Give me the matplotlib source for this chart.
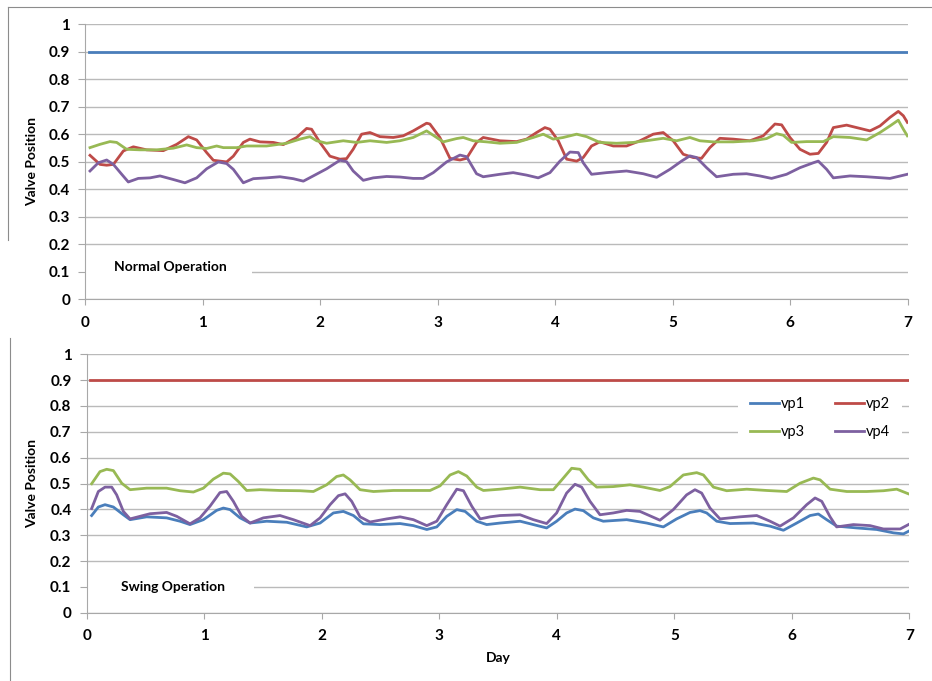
import matplotlib
matplotlib.use('Agg')
import matplotlib.pyplot as plt
from matplotlib.lines import Line2D
from matplotlib.patches import Rectangle

plt.rcParams['font.family'] = ['Lato', 'DejaVu Sans']

# --- data (day, valve position) ---
flat_days = [0.03, 7.0]
flat_vals = [0.9, 0.9]

normal_vp2 = [(0.04, 0.523), (0.125, 0.49), (0.182, 0.487), (0.239, 0.49), (0.324, 0.539), (0.409, 0.554),
              (0.522, 0.543), (0.664, 0.54), (0.778, 0.563), (0.877, 0.591), (0.948, 0.579), (1.033, 0.533),
              (1.09, 0.505), (1.203, 0.499), (1.26, 0.52), (1.345, 0.57), (1.401, 0.582), (1.487, 0.572),
              (1.6, 0.57), (1.685, 0.562), (1.799, 0.588), (1.884, 0.621), (1.926, 0.618), (1.997, 0.57),
              (2.082, 0.52), (2.167, 0.509), (2.224, 0.511), (2.28, 0.545), (2.352, 0.6), (2.423, 0.606),
              (2.508, 0.591), (2.621, 0.588), (2.706, 0.594), (2.791, 0.612), (2.905, 0.64), (2.933, 0.637),
              (3.018, 0.588), (3.104, 0.512), (3.189, 0.506), (3.245, 0.512), (3.33, 0.57), (3.387, 0.588),
              (3.529, 0.576), (3.671, 0.573), (3.756, 0.582), (3.841, 0.606), (3.912, 0.624), (3.955, 0.618),
              (4.026, 0.576), (4.097, 0.509), (4.182, 0.502), (4.238, 0.515), (4.309, 0.557), (4.38, 0.572),
              (4.494, 0.557), (4.607, 0.557), (4.721, 0.576), (4.834, 0.6), (4.919, 0.606), (5.004, 0.576),
              (5.089, 0.527), (5.174, 0.515), (5.245, 0.512), (5.316, 0.551), (5.401, 0.585), (5.515, 0.582),
              (5.657, 0.576), (5.77, 0.594), (5.87, 0.637), (5.927, 0.634), (5.998, 0.588), (6.083, 0.545),
              (6.168, 0.527), (6.239, 0.53), (6.31, 0.57), (6.367, 0.624), (6.48, 0.633), (6.594, 0.621),
              (6.679, 0.612), (6.764, 0.63), (6.849, 0.661), (6.92, 0.683), (6.963, 0.667), (6.997, 0.643)]

normal_vp3 = [(0.04, 0.551), (0.125, 0.563), (0.21, 0.573), (0.267, 0.57), (0.352, 0.545), (0.465, 0.543),
              (0.607, 0.543), (0.749, 0.549), (0.863, 0.561), (0.948, 0.551), (1.033, 0.548), (1.118, 0.557),
              (1.175, 0.551), (1.288, 0.551), (1.373, 0.557), (1.543, 0.557), (1.714, 0.567), (1.827, 0.582),
              (1.912, 0.591), (1.969, 0.576), (2.054, 0.567), (2.196, 0.576), (2.309, 0.57), (2.423, 0.576),
              (2.565, 0.57), (2.678, 0.576), (2.791, 0.588), (2.905, 0.612), (2.99, 0.588), (3.047, 0.572),
              (3.16, 0.584), (3.217, 0.588), (3.302, 0.576), (3.416, 0.572), (3.529, 0.567), (3.671, 0.57),
              (3.813, 0.588), (3.898, 0.6), (3.983, 0.582), (4.068, 0.588), (4.182, 0.6), (4.267, 0.591),
              (4.38, 0.57), (4.522, 0.567), (4.664, 0.57), (4.806, 0.578), (4.919, 0.585), (5.033, 0.576),
              (5.146, 0.588), (5.231, 0.576), (5.345, 0.572), (5.515, 0.572), (5.685, 0.576), (5.799, 0.584),
              (5.884, 0.602), (5.941, 0.596), (6.012, 0.57), (6.14, 0.573), (6.282, 0.573), (6.367, 0.591),
              (6.509, 0.588), (6.651, 0.579), (6.764, 0.606), (6.849, 0.63), (6.92, 0.651), (6.963, 0.618),
              (6.997, 0.594)]

normal_vp4 = [(0.04, 0.466), (0.111, 0.496), (0.182, 0.506), (0.239, 0.49), (0.31, 0.454), (0.366, 0.426),
              (0.451, 0.439), (0.551, 0.441), (0.636, 0.448), (0.749, 0.435), (0.848, 0.423), (0.948, 0.441),
              (1.033, 0.474), (1.132, 0.499), (1.203, 0.493), (1.26, 0.472), (1.345, 0.423), (1.43, 0.438),
              (1.543, 0.441), (1.657, 0.445), (1.77, 0.438), (1.856, 0.429), (1.94, 0.448), (2.054, 0.474),
              (2.167, 0.505), (2.224, 0.5), (2.28, 0.466), (2.366, 0.432), (2.451, 0.441), (2.565, 0.446),
              (2.678, 0.444), (2.791, 0.439), (2.876, 0.439), (2.962, 0.46), (3.075, 0.499), (3.189, 0.524),
              (3.245, 0.518), (3.33, 0.456), (3.387, 0.445), (3.529, 0.454), (3.642, 0.46), (3.756, 0.451),
              (3.855, 0.441), (3.955, 0.46), (4.04, 0.502), (4.125, 0.535), (4.196, 0.533), (4.238, 0.496),
              (4.309, 0.454), (4.437, 0.46), (4.607, 0.466), (4.749, 0.456), (4.863, 0.443), (4.976, 0.472),
              (5.075, 0.502), (5.146, 0.521), (5.203, 0.515), (5.288, 0.478), (5.373, 0.445), (5.515, 0.454),
              (5.628, 0.456), (5.742, 0.448), (5.841, 0.439), (5.969, 0.454), (6.083, 0.478), (6.197, 0.496),
              (6.239, 0.502), (6.31, 0.472), (6.367, 0.441), (6.509, 0.448), (6.651, 0.445), (6.849, 0.439),
              (6.997, 0.454)]

swing_vp1 = [(0.042, 0.376), (0.099, 0.409), (0.156, 0.418), (0.227, 0.409), (0.312, 0.379), (0.369, 0.36),
             (0.51, 0.371), (0.68, 0.367), (0.794, 0.354), (0.879, 0.341), (0.993, 0.36), (1.106, 0.396),
             (1.163, 0.405), (1.22, 0.399), (1.305, 0.367), (1.39, 0.347), (1.532, 0.354), (1.702, 0.35),
             (1.872, 0.332), (1.986, 0.347), (2.099, 0.386), (2.184, 0.392), (2.27, 0.376), (2.355, 0.344),
             (2.496, 0.341), (2.667, 0.345), (2.78, 0.337), (2.894, 0.322), (2.979, 0.332), (3.064, 0.373),
             (3.149, 0.399), (3.22, 0.392), (3.319, 0.354), (3.404, 0.341), (3.518, 0.347), (3.688, 0.354),
             (3.801, 0.341), (3.914, 0.328), (3.999, 0.354), (4.084, 0.386), (4.155, 0.401), (4.226, 0.395),
             (4.311, 0.367), (4.396, 0.354), (4.595, 0.36), (4.765, 0.347), (4.907, 0.332), (5.02, 0.363),
             (5.134, 0.388), (5.219, 0.395), (5.276, 0.386), (5.361, 0.354), (5.475, 0.345), (5.673, 0.347),
             (5.815, 0.335), (5.929, 0.319), (6.042, 0.347), (6.156, 0.376), (6.226, 0.382), (6.297, 0.36),
             (6.382, 0.335), (6.553, 0.328), (6.723, 0.322), (6.865, 0.309), (6.95, 0.305), (6.993, 0.315)]

swing_vp3 = [(0.042, 0.499), (0.113, 0.546), (0.17, 0.555), (0.227, 0.55), (0.298, 0.501), (0.369, 0.476),
             (0.51, 0.482), (0.68, 0.482), (0.794, 0.472), (0.908, 0.467), (0.993, 0.482), (1.078, 0.517),
             (1.163, 0.54), (1.22, 0.537), (1.29, 0.508), (1.361, 0.473), (1.475, 0.476), (1.645, 0.473),
             (1.815, 0.472), (1.929, 0.469), (2.042, 0.495), (2.127, 0.527), (2.184, 0.533), (2.241, 0.514),
             (2.326, 0.476), (2.44, 0.469), (2.61, 0.473), (2.78, 0.473), (2.922, 0.473), (3.007, 0.491),
             (3.092, 0.533), (3.163, 0.546), (3.234, 0.529), (3.319, 0.486), (3.376, 0.473), (3.518, 0.478),
             (3.688, 0.486), (3.857, 0.476), (3.971, 0.476), (4.056, 0.521), (4.127, 0.559), (4.198, 0.555),
             (4.269, 0.514), (4.34, 0.486), (4.481, 0.488), (4.623, 0.495), (4.737, 0.486), (4.878, 0.473),
             (4.963, 0.488), (5.077, 0.533), (5.191, 0.542), (5.248, 0.533), (5.333, 0.486), (5.446, 0.472),
             (5.617, 0.478), (5.787, 0.473), (5.957, 0.469), (6.07, 0.501), (6.184, 0.521), (6.241, 0.514),
             (6.326, 0.478), (6.468, 0.469), (6.638, 0.469), (6.78, 0.472), (6.893, 0.478), (6.993, 0.46)]

swing_vp4 = [(0.042, 0.403), (0.099, 0.469), (0.156, 0.486), (0.213, 0.486), (0.255, 0.456), (0.312, 0.392),
             (0.369, 0.363), (0.454, 0.373), (0.539, 0.383), (0.68, 0.388), (0.766, 0.373), (0.879, 0.344),
             (0.964, 0.367), (1.049, 0.412), (1.134, 0.465), (1.191, 0.469), (1.248, 0.431), (1.319, 0.373),
             (1.39, 0.347), (1.503, 0.367), (1.645, 0.376), (1.759, 0.36), (1.901, 0.337), (1.986, 0.367),
             (2.071, 0.418), (2.142, 0.453), (2.199, 0.46), (2.255, 0.431), (2.326, 0.371), (2.411, 0.351),
             (2.553, 0.363), (2.667, 0.371), (2.78, 0.36), (2.894, 0.337), (2.979, 0.354), (3.064, 0.418),
             (3.149, 0.478), (3.206, 0.472), (3.277, 0.412), (3.348, 0.363), (3.433, 0.371), (3.518, 0.376),
             (3.688, 0.379), (3.801, 0.36), (3.914, 0.345), (3.999, 0.386), (4.084, 0.463), (4.155, 0.497),
             (4.212, 0.486), (4.283, 0.431), (4.368, 0.379), (4.481, 0.386), (4.595, 0.396), (4.708, 0.392),
             (4.878, 0.358), (4.992, 0.399), (5.105, 0.456), (5.176, 0.476), (5.233, 0.463), (5.304, 0.405),
             (5.389, 0.363), (5.56, 0.371), (5.702, 0.376), (5.815, 0.354), (5.9, 0.335), (6.014, 0.367),
             (6.127, 0.418), (6.198, 0.444), (6.255, 0.431), (6.326, 0.371), (6.382, 0.332), (6.524, 0.341),
             (6.666, 0.337), (6.78, 0.324), (6.922, 0.324), (6.993, 0.341)]

series_names = ['vp1', 'vp2', 'vp3', 'vp4']
colors = {'vp1': '#4a7ebb', 'vp2': '#be4b48', 'vp3': '#98b954', 'vp4': '#7d60a0'}
y_ticks = [i / 10 for i in range(11)]
y_tick_labels = ['0', '0.1', '0.2', '0.3', '0.4', '0.5', '0.6', '0.7', '0.8', '0.9', '1']
x_ticks = list(range(8))

W, H = 932, 681
fig = plt.figure(figsize=(W / 100, H / 100), dpi=100)


def px_box(x0, y0, x1, y1):
    return [x0 / W, 1 - y1 / H, (x1 - x0) / W, (y1 - y0) / H]


def style_axes(ax):
    ax.set_xlim(0, 7)
    ax.set_ylim(0, 1)
    ax.set_yticks(y_ticks)
    ax.set_yticklabels(y_tick_labels)
    ax.set_xticks(x_ticks)
    ax.set_axisbelow(True)
    ax.grid(axis='y', color='#bababa', lw=1.0)
    ax.grid(axis='x', visible=False)
    for side in ['top', 'right']:
        ax.spines[side].set_visible(False)
    for side in ['left', 'bottom']:
        ax.spines[side].set_color('#a8a8a8')
    ax.tick_params(axis='y', length=5, color='#a8a8a8', pad=6, labelsize=11)
    ax.tick_params(axis='x', length=4, color='#a8a8a8', pad=8, labelsize=11)
    for lab in ax.get_xticklabels() + ax.get_yticklabels():
        lab.set_fontweight('bold')
    ax.set_ylabel('Valve Position', fontsize=10, fontweight='bold')


def draw(ax, pairs, name):
    xs = [p[0] for p in pairs]
    ys = [p[1] for p in pairs]
    return ax.plot(xs, ys, color=colors[name], lw=2.0, zorder=3, label=name)[0]


# --- top panel: normal operation ---
ax1 = fig.add_axes(px_box(85.3, 24.3, 907.7, 299))
style_axes(ax1)
ax1.yaxis.set_label_coords(-0.057, 0.5)
ax1.plot(flat_days, flat_vals, color=colors['vp1'], lw=2.0, zorder=3)
draw(ax1, normal_vp2, 'vp2')
draw(ax1, normal_vp3, 'vp3')
draw(ax1, normal_vp4, 'vp4')
ax1.add_patch(Rectangle((0.005, 0.075), 1.41, 0.06, facecolor='white', edgecolor='none', zorder=1))
ax1.text(0.245, 0.116, 'Normal Operation', fontsize=10, fontweight='bold', va='center', zorder=4)

# --- bottom panel: swing operation ---
ax2 = fig.add_axes(px_box(86.7, 354.3, 909.3, 612.7))
style_axes(ax2)
ax2.yaxis.set_label_coords(-0.059, 0.5)
h2 = ax2.plot(flat_days, flat_vals, color=colors['vp2'], lw=2.0, zorder=3, label='vp2')[0]
h1 = draw(ax2, swing_vp1, 'vp1')
h3 = draw(ax2, swing_vp3, 'vp3')
h4 = draw(ax2, swing_vp4, 'vp4')
ax2.add_patch(Rectangle((0.005, 0.07), 1.42, 0.06, facecolor='white', edgecolor='none', zorder=1))
ax2.text(0.29, 0.10, 'Swing Operation', fontsize=10, fontweight='bold', va='center', zorder=4)
ax2.set_xlabel('Day', fontsize=10, fontweight='bold')
ax2.xaxis.set_label_coords(0.5, -0.152)

leg = ax2.legend([h1, h3, h2, h4], ['vp1', 'vp3', 'vp2', 'vp4'], ncol=2, loc='center',
                 bbox_to_anchor=(0.8914, 0.7535), bbox_transform=ax2.transAxes,
                 fontsize=10.5, handlelength=2.0, handletextpad=0.15, columnspacing=2.0,
                 labelspacing=1.0, borderpad=0.8, frameon=True, fancybox=False,
                 facecolor='white', edgecolor='none', framealpha=1.0)
leg.set_zorder(5)

# chart frame lines (Excel-style borders)
frame = '#8c8c8c'
fig.add_artist(Line2D([8 / W, 1.0], [1 - 7 / H, 1 - 7 / H], color=frame, lw=0.8))
fig.add_artist(Line2D([8 / W, 8 / W], [1 - 7 / H, 1 - 240 / H], color=frame, lw=0.8))
fig.add_artist(Line2D([9.5 / W, 9.5 / W], [1 - 338 / H, 0.0], color=frame, lw=0.8))

fig.savefig('out.png', dpi=100)
